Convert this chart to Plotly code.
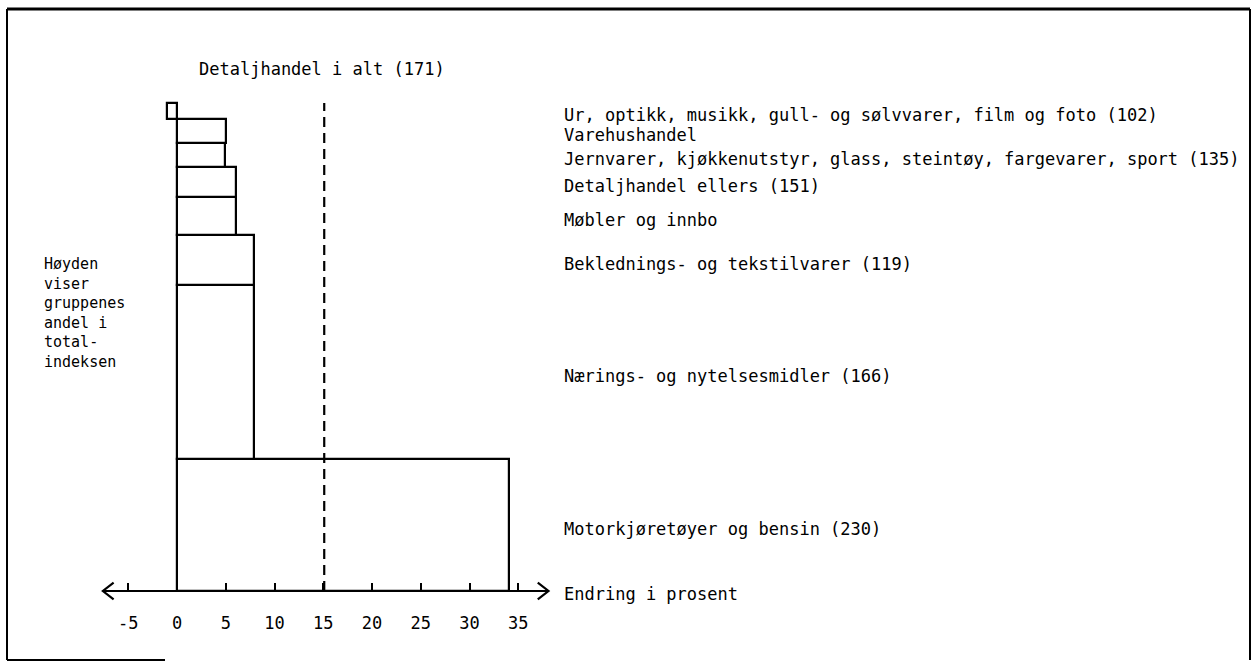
import plotly.graph_objects as go

# ---- data (bottom to top) ----
categories = [
    "Motorkjøretøyer og bensin (230)",
    "Nærings- og nytelsesmidler (166)",
    "Beklednings- og tekstilvarer (119)",
    "Møbler og innbo",
    "Detaljhandel ellers (151)",
    "Jernvarer, kjøkkenutstyr, glass, steintøy, fargevarer, sport (135)",
    "Varehushandel",
    "Ur, optikk, musikk, gull- og sølvvarer, film og foto (102)",
]
shares = [27.0, 35.8, 10.2, 7.8, 6.1, 4.9, 4.9, 3.3]      # height = share of total index
changes = [34.1, 7.9, 7.9, 6.0, 6.1, 4.9, 5.0, -1.0]      # width = change in percent
total_label = "Detaljhandel i alt (171)"
total_change = 15.1
tick_vals = [-5, 0, 5, 10, 15, 20, 25, 30, 35]
tick_text = ["-5", "0", "5", "10", "15", "20", "25", "30", "35"]
axis_title = "Endring i prosent"
side_note = ["Høyden", "viser", "gruppenes", "andel i", "total-", "indeksen"]

# ---- layout geometry ----
W, H = 1252, 663
PX_X, X0 = 9.75, 177.0      # px per x-unit, pixel of x=0
PX_Y, Y0 = 4.88, 591.0      # px per y-unit, pixel of y=0
xr = [-X0 / PX_X, (W - X0) / PX_X]
yr = [-(H - Y0) / PX_Y, Y0 / PX_Y]

FONT = "DejaVu Sans Mono"

# bar centres from cumulative shares
centers = []
acc = 0.0
for s in shares:
    centers.append(acc + s / 2)
    acc += s
top = acc

fig = go.Figure()
fig.add_trace(go.Bar(
    orientation="h", y=centers, x=changes, base=0, width=shares,
    marker=dict(color="white", line=dict(color="black", width=2.2)),
    hoverinfo="skip", showlegend=False,
))

# dashed total line
fig.add_trace(go.Scatter(
    x=[total_change, total_change], y=[0, top], mode="lines",
    line=dict(color="black", width=2.2, dash="10px,6px"),
    hoverinfo="skip", showlegend=False,
))

# axis line with open arrow heads
ax_l, ax_r = -7.6, 38.1
ah_dx, ah_dy = 1.1, 1.7
fig.add_trace(go.Scatter(
    x=[ax_l, ax_r, None, ax_l + ah_dx, ax_l, ax_l + ah_dx, None, ax_r - ah_dx, ax_r, ax_r - ah_dx],
    y=[0, 0, None, ah_dy, 0, -ah_dy, None, ah_dy, 0, -ah_dy],
    mode="lines", line=dict(color="black", width=2.2),
    hoverinfo="skip", showlegend=False,
))

annotations = []
label_x = 39.5
for c, name in zip(centers, categories):
    annotations.append(dict(
        x=label_x, y=c, xref="x", yref="y", text=name, showarrow=False,
        xanchor="left", yanchor="middle", yshift=-4,
        font=dict(family=FONT, size=17, color="black"),
    ))
annotations.append(dict(
    x=label_x, y=0, xref="x", yref="y", text=axis_title, showarrow=False,
    xanchor="left", yanchor="middle", yshift=-3,
    font=dict(family=FONT, size=17, color="black"),
))
annotations.append(dict(
    x=2.0, y=top, xref="x", yref="y", text=total_label, showarrow=False,
    xanchor="left", yanchor="middle", yshift=34,
    font=dict(family=FONT, size=17, color="black"),
))
annotations.append(dict(
    x=-13.8, y=top, xref="x", yref="y", text="<br>".join(side_note), showarrow=False,
    xanchor="left", yanchor="middle", align="left", yshift=-210,
    font=dict(family=FONT, size=15, color="black"),
))

# frame
shapes = [
    dict(type="line", xref="paper", yref="paper", x0=7 / W, x1=7 / W, y0=1 - 660 / H, y1=1 - 9 / H,
         line=dict(color="black", width=2)),
    dict(type="line", xref="paper", yref="paper", x0=7 / W, x1=1250 / W, y0=1 - 9 / H, y1=1 - 9 / H,
         line=dict(color="black", width=3)),
    dict(type="line", xref="paper", yref="paper", x0=1250 / W, x1=1250 / W, y0=1 - 660 / H, y1=1 - 9 / H,
         line=dict(color="black", width=2)),
    dict(type="line", xref="paper", yref="paper", x0=7 / W, x1=165 / W, y0=1 - 660 / H, y1=1 - 660 / H,
         line=dict(color="black", width=2)),
]

fig.update_layout(
    width=W, height=H, margin=dict(l=0, r=0, t=0, b=0),
    paper_bgcolor="white", plot_bgcolor="white",
    annotations=annotations, shapes=shapes,
    xaxis=dict(range=xr, anchor="free", position=(H - Y0) / H,
               showgrid=False, zeroline=False, showline=False,
               ticks="inside", ticklen=8, tickwidth=2, tickcolor="black",
               tickvals=tick_vals, ticktext=tick_text, ticklabelstandoff=20,
               tickfont=dict(family=FONT, size=17, color="black"), fixedrange=True),
    yaxis=dict(range=yr, visible=False, showgrid=False, zeroline=False, fixedrange=True),
    bargap=0,
)

fig.write_html("out.html", config={"displayModeBar": False},
               post_script="document.body.style.margin='0';")
